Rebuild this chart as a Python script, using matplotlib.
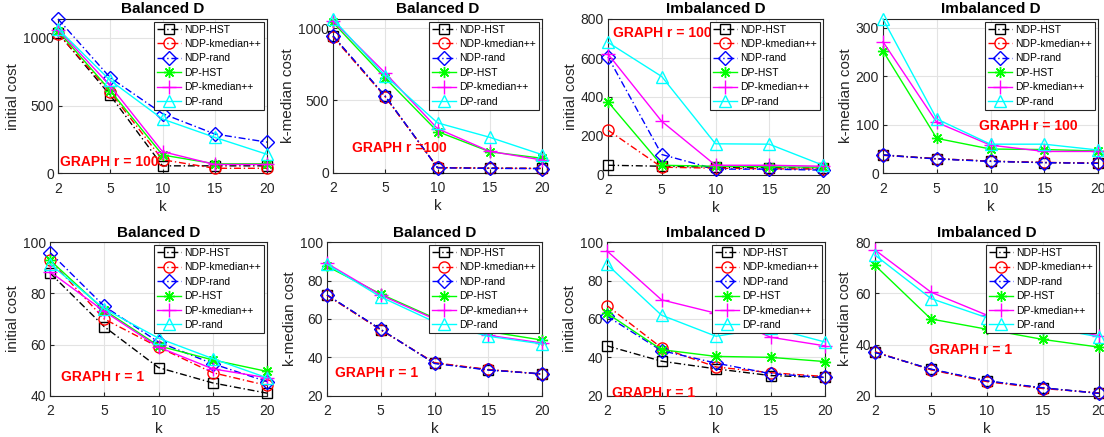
import matplotlib
matplotlib.use('Agg')
import matplotlib.pyplot as plt

plt.rcParams['font.family'] = ['Liberation Sans', 'DejaVu Sans']

k_labels = ['2', '5', '10', '15', '20']
series_names = ['NDP-HST', 'NDP-kmedian++', 'NDP-rand', 'DP-HST', 'DP-kmedian++', 'DP-rand']

# one list per series, same order as series_names
bal_init_r100 = [[1035, 575, 55, 55, 55],
                 [1030, 600, 100, 37, 37],
                 [1138, 705, 440, 290, 230],
                 [1050, 610, 135, 70, 70],
                 [1060, 645, 160, 65, 65],
                 [1065, 685, 400, 265, 140]]
bal_kmed_r100 = [[945, 528, 35, 32, 30],
                 [940, 525, 36, 31, 29],
                 [948, 530, 34, 30, 28],
                 [1040, 655, 285, 145, 100],
                 [1050, 690, 305, 148, 88],
                 [1064, 670, 345, 245, 125]]
imb_init_r100 = [[50, 45, 40, 38, 35],
                 [230, 40, 35, 32, 30],
                 [605, 105, 30, 30, 25],
                 [375, 50, 45, 42, 40],
                 [620, 275, 50, 50, 45],
                 [680, 505, 160, 158, 50]]
imb_kmed_r100 = [[38, 30, 25, 22, 21],
                 [37, 30, 25, 22.5, 21],
                 [37.5, 29.5, 24.5, 22, 20.5],
                 [252, 72, 50, 49, 46],
                 [271, 105, 58, 45, 45],
                 [318, 112, 60, 60, 48]]
bal_init_r1 = [[88, 67, 51, 45, 41],
               [93, 70, 59, 49, 44],
               [96, 75, 61, 52.5, 45.5],
               [93, 73.5, 59.5, 54, 49.5],
               [88.5, 73, 59, 50.5, 47],
               [91.5, 74, 62.5, 54.5, 47]]
bal_kmed_r1 = [[72.5, 54.5, 37, 33.5, 31.3],
               [72.3, 54.3, 37.2, 33.7, 31.2],
               [72.6, 54.6, 36.8, 33.4, 31.4],
               [87.5, 73, 60.5, 53.5, 49],
               [89, 72.5, 60, 51.5, 47.5],
               [88.5, 71.5, 58.5, 51, 47]]
imb_init_r1 = [[46, 38, 34, 30.5, 29.5],
               [67, 45, 35, 32, 30],
               [61.5, 43.5, 37, 31.5, 29.5],
               [63, 44, 40.5, 40, 37.8],
               [95.5, 70, 63, 50.5, 46],
               [88.5, 62, 51, 55.5, 48]]
imb_kmed_r1 = [[37, 30.3, 25.7, 23, 21],
               [37.2, 30.1, 25.5, 22.8, 21.1],
               [36.9, 30.4, 25.8, 23.1, 20.9],
               [71, 50, 46, 42, 39],
               [77, 60.5, 51.5, 47, 43.5],
               [75, 58, 50.5, 47, 43]]

# matlab-like colours / markers
colors = [(0, 0, 0), (1, 0, 0), (0, 0, 1), (0, 1, 0), (1, 0, 1), (0, 1, 1)]
markers = ['s', 'o', 'D', (8, 2, 0), '+', '^']
styles = [(0, (5, 2, 1, 2))] * 3 + ['-'] * 3
msizes = [7.5, 8, 7, 8, 10, 9]

W, H = 1104, 437
fig = plt.figure(figsize=(W / 100, H / 100), dpi=100)


def rect(x0, x1, ytop, ybot):
    return [x0 / W, 1 - ybot / H, (x1 - x0) / W, (ybot - ytop) / H]


panels = [
    (bal_init_r100, 'Balanced D', 'initial cost', (0, 1138), [0, 500, 1000],
     rect(58, 267, 19, 173.3), 'GRAPH r = 100', (1.03, 80)),
    (bal_kmed_r100, 'Balanced D', 'k-median cost', (0, 1064), [0, 500, 1000],
     rect(333, 542, 19, 172.7), 'GRAPH r =100', (1.36, 170)),
    (imb_init_r100, 'Imbalanced D', 'initial cost', (0, 800), [0, 200, 400, 600, 800],
     rect(608, 823, 19, 175), 'GRAPH r = 100', (1.09, 728)),
    (imb_kmed_r100, 'Imbalanced D', 'k-median cost', (0, 318), [0, 100, 200, 300],
     rect(883, 1098, 19, 173.3), 'GRAPH r = 100', (2.79, 97)),
    (bal_init_r1, 'Balanced D', 'initial cost', (40, 100), [40, 60, 80, 100],
     rect(50, 267, 242.3, 395.7), 'GRAPH r = 1', (1.2, 47.3)),
    (bal_kmed_r1, 'Balanced D', 'k-median cost', (20, 100), [20, 40, 60, 80, 100],
     rect(327, 542, 242.3, 395.7), 'GRAPH r = 1', (1.15, 31.8)),
    (imb_init_r1, 'Imbalanced D', 'initial cost', (20, 100), [20, 40, 60, 80, 100],
     rect(607, 825, 242.3, 395.7), 'GRAPH r = 1', (1.1, 21.6)),
    (imb_kmed_r1, 'Imbalanced D', 'k-median cost', (20, 80), [20, 40, 60, 80],
     rect(875, 1099, 242.3, 395.7), 'GRAPH r = 1', (1.97, 37.9)),
]

xs = list(range(1, len(k_labels) + 1))
dark = '#262626'

for data, title, ylab, ylim, yticks, pos, note, note_xy in panels:
    ax = fig.add_axes(pos)
    for i, name in enumerate(series_names):
        ax.plot(xs, data[i], linestyle=styles[i], color=colors[i], marker=markers[i],
                markersize=msizes[i], markerfacecolor='none', markeredgewidth=1.0,
                linewidth=1.0, label=name, clip_on=False, zorder=3)
    ax.set_xlim(1, 5)
    ax.set_ylim(*ylim)
    ax.set_xticks(xs)
    ax.set_xticklabels(k_labels)
    ax.set_yticks(yticks)
    ax.grid(True, color='#e3e3e3', linewidth=0.8)
    ax.set_axisbelow(True)
    ax.tick_params(direction='in', length=3, labelsize=10, colors=dark)
    ax.tick_params(axis='x', pad=6)
    ax.tick_params(axis='y', pad=3)
    for sp in ax.spines.values():
        sp.set_color(dark)
        sp.set_linewidth(0.8)
    ax.set_title(title, fontsize=11, fontweight='bold', pad=4)
    ax.set_ylabel(ylab, fontsize=11, color=dark, labelpad=2)
    ax.set_xlabel('k', fontsize=11, color=dark, labelpad=3)
    ax.text(note_xy[0], note_xy[1], note, color='r', fontsize=10, fontweight='bold',
            ha='left', va='center', zorder=5)
    leg = ax.legend(loc='upper right', fontsize=7.5, fancybox=False, framealpha=1,
                    edgecolor=dark, borderaxespad=0.25, handlelength=2.3,
                    handletextpad=0.3, labelspacing=0.42, borderpad=0.3)
    leg.get_frame().set_linewidth(0.8)
    leg.set_zorder(10)

fig.savefig('out.png', dpi=100)
